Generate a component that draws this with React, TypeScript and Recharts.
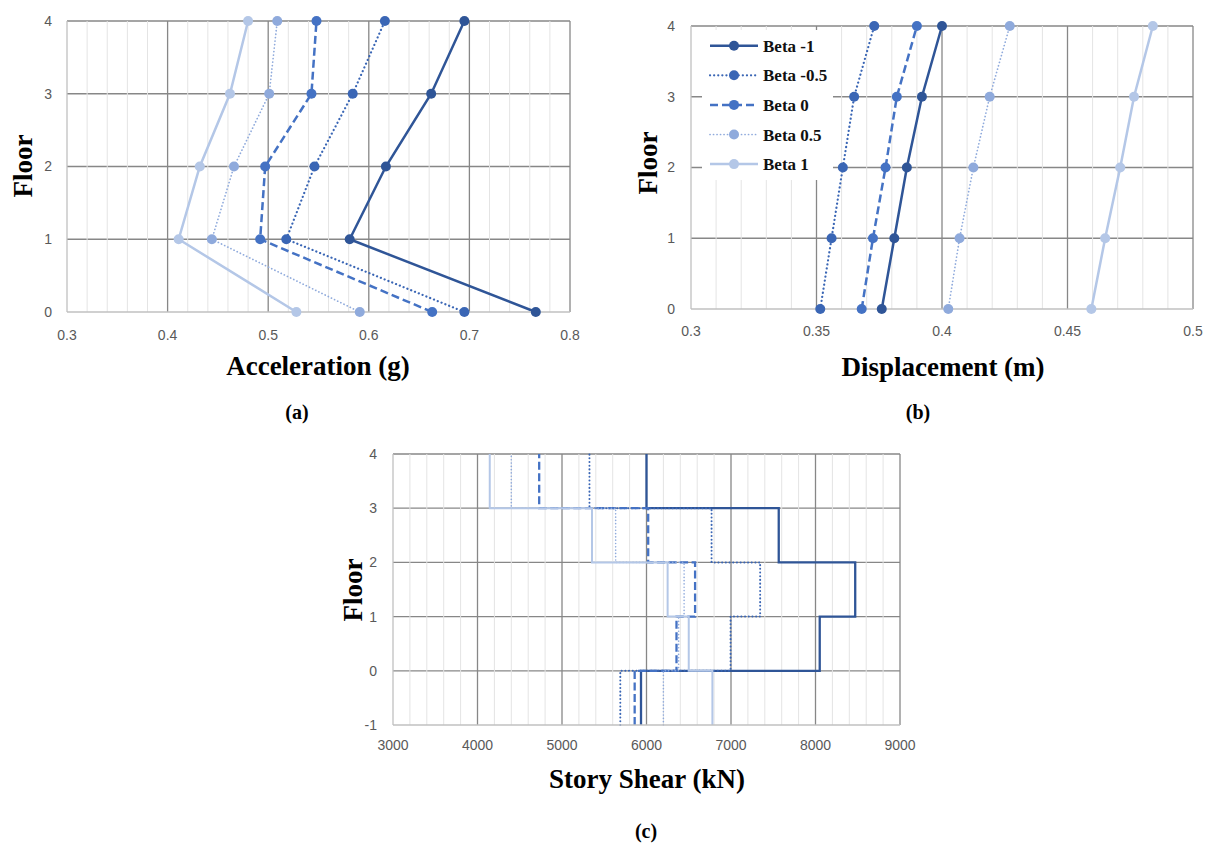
import React from "react";
import { LineChart, Line, XAxis, YAxis, CartesianGrid, Legend } from "recharts";

// floors 0..4 (panels a, b)
const floors = [0, 1, 2, 3, 4];
const seriesNames = ["Beta -1", "Beta -0.5", "Beta 0", "Beta 0.5", "Beta 1"];

// (a) peak floor acceleration (g)
const accBetaM1 = [0.766, 0.581, 0.617, 0.662, 0.695];
const accBetaM05 = [0.695, 0.518, 0.546, 0.584, 0.616];
const accBeta0 = [0.663, 0.492, 0.497, 0.543, 0.548];
const accBeta05 = [0.591, 0.444, 0.466, 0.501, 0.509];
const accBeta1 = [0.528, 0.411, 0.432, 0.462, 0.48];

// (b) peak displacement (m)
const dispBetaM1 = [0.376, 0.381, 0.386, 0.392, 0.4];
const dispBetaM05 = [0.3515, 0.356, 0.3605, 0.365, 0.373];
const dispBeta0 = [0.368, 0.3725, 0.3775, 0.382, 0.39];
const dispBeta05 = [0.4025, 0.407, 0.4125, 0.419, 0.427];
const dispBeta1 = [0.4595, 0.465, 0.471, 0.4765, 0.484];

// (c) story shear (kN), stories -1..0, 0..1, 1..2, 2..3, 3..4
const shearFloors = [-1, 0, 1, 2, 3, 4];
const shearBetaM1 = [5935, 8050, 8470, 7565, 6000];
const shearBetaM05 = [5690, 6995, 7345, 6770, 5325];
const shearBeta0 = [5860, 6355, 6575, 6020, 4730];
const shearBeta05 = [6200, 6380, 6445, 5635, 4400];
const shearBeta1 = [6780, 6500, 6250, 5355, 4145];

const keys = ["bm1", "bm05", "b0", "b05", "b1"];

const accRows = floors.map((f, i) => ({
  floor: f,
  bm1: accBetaM1[i],
  bm05: accBetaM05[i],
  b0: accBeta0[i],
  b05: accBeta05[i],
  b1: accBeta1[i],
}));

const dispRows = floors.map((f, i) => ({
  floor: f,
  bm1: dispBetaM1[i],
  bm05: dispBetaM05[i],
  b0: dispBeta0[i],
  b05: dispBeta05[i],
  b1: dispBeta1[i],
}));

// top floor repeats the last story so the step reaches floor 4
const shearRows = shearFloors.map((f, i) => {
  const j = Math.min(i, 4);
  return {
    floor: f,
    bm1: shearBetaM1[j],
    bm05: shearBetaM05[j],
    b0: shearBeta0[j],
    b05: shearBeta05[j],
    b1: shearBeta1[j],
  };
});

type LineStyle = { color: string; width: number; dash?: string; cap?: "round" | "butt" };

const pointStyles: LineStyle[] = [
  { color: "#2F5597", width: 2.5 },
  { color: "#3A66B5", width: 2.2, dash: "0.1 4", cap: "round" },
  { color: "#4472C4", width: 2.5, dash: "8 4" },
  { color: "#8FAADC", width: 1.7, dash: "0.1 3.4", cap: "round" },
  { color: "#B4C7E7", width: 2.5 },
];

const stepStyles: LineStyle[] = [
  { color: "#2F5597", width: 2.3 },
  { color: "#3A66B5", width: 2, dash: "0.1 3.6", cap: "round" },
  { color: "#4472C4", width: 2.3, dash: "8 3.5" },
  { color: "#8FAADC", width: 1.6, dash: "0.1 3.2", cap: "round" },
  { color: "#B4C7E7", width: 2 },
];

const range = (a: number, b: number, step: number) => {
  const out: number[] = [];
  const n = Math.round((b - a) / step);
  for (let i = 0; i <= n; i++) out.push(Math.round((a + i * step) * 10000) / 10000);
  return out;
};

const tickStyle = { fontFamily: "Liberation Sans, Arial, sans-serif", fontSize: 14, fill: "#595959" };
const MAJOR = "#878787";
const MINOR = "#e4e4e4";
const AXIS = "#c0c0c0";

function LegendBox() {
  return (
    <svg width={131} height={150} style={{ background: "#fff", display: "block" }}>
      {seriesNames.map((name, i) => {
        const s = pointStyles[i];
        const y = 15.7 + i * 29.6;
        return (
          <g key={name}>
            <line
              x1={8}
              x2={56}
              y1={y}
              y2={y}
              stroke={s.color}
              strokeWidth={s.width}
              strokeDasharray={s.dash}
              strokeLinecap={s.cap ?? "butt"}
            />
            <circle cx={32} cy={y} r={5} fill={s.color} />
            <text
              x={61}
              y={y + 6}
              fontFamily="Liberation Serif, Times New Roman, serif"
              fontWeight="bold"
              fontSize={17}
              fill="#111"
            >
              {name}
            </text>
          </g>
        );
      })}
    </svg>
  );
}

interface PanelProps {
  data: Record<string, number>[];
  styles: LineStyle[];
  width: number;
  height: number;
  margin: { top: number; right: number; bottom: number; left: number };
  yAxisWidth: number;
  xAxisHeight: number;
  xDomain: [number, number];
  xTicks: number[];
  xMinor: number[];
  yDomain: [number, number];
  yTicks: number[];
  xTickMargin: number;
  yTickMargin: number;
  step?: boolean;
  legend?: { left: number; top: number };
}

function Panel(p: PanelProps) {
  const majorV = p.xTicks.slice(1);
  const minorV = p.xMinor.filter((v) => !p.xTicks.some((t) => Math.abs(t - v) < 1e-9));
  const majorH = p.yTicks.slice(1);
  return (
    <LineChart layout="vertical" width={p.width} height={p.height} data={p.data} margin={p.margin}>
      <CartesianGrid stroke={MAJOR} strokeWidth={1.3} horizontalValues={majorH} verticalValues={majorV} />
      <CartesianGrid stroke={MINOR} strokeWidth={1} horizontal={false} verticalValues={minorV} />
      <XAxis
        type="number"
        domain={p.xDomain}
        ticks={p.xTicks}
        interval={0}
        allowDataOverflow
        tickLine={false}
        axisLine={{ stroke: AXIS, strokeWidth: 1.3 }}
        tick={tickStyle}
        tickMargin={p.xTickMargin}
        height={p.xAxisHeight}
      />
      <YAxis
        type="number"
        dataKey="floor"
        domain={p.yDomain}
        ticks={p.yTicks}
        interval={0}
        reversed
        tickLine={false}
        axisLine={{ stroke: AXIS, strokeWidth: 1.3 }}
        tick={tickStyle}
        tickMargin={p.yTickMargin}
        width={p.yAxisWidth}
      />
      {keys.map((k, i) => {
        const s = p.styles[i];
        return (
          <Line
            key={k}
            dataKey={k}
            name={seriesNames[i]}
            type={p.step ? "stepBefore" : "linear"}
            stroke={s.color}
            strokeWidth={s.width}
            strokeDasharray={s.dash}
            strokeLinecap={s.cap ?? "butt"}
            dot={p.step ? false : { r: 5, fill: s.color, stroke: "none" }}
            activeDot={false}
            isAnimationActive={false}
          />
        );
      })}
      {p.legend && (
        <Legend
          layout="vertical"
          verticalAlign="middle"
          align="center"
          content={() => <LegendBox />}
          wrapperStyle={{ left: p.legend.left, top: p.legend.top, width: 131, height: 150 }}
        />
      )}
    </LineChart>
  );
}

const serif = "Liberation Serif, Times New Roman, serif";

function Caption({ x, y, size, rotate, text }: { x: number; y: number; size: number; rotate?: boolean; text: string }) {
  return (
    <div
      style={{
        position: "absolute",
        left: x,
        top: y,
        transform: `translate(-50%, -50%)${rotate ? " rotate(-90deg)" : ""}`,
        fontFamily: serif,
        fontWeight: "bold",
        fontSize: size,
        lineHeight: 1,
        whiteSpace: "nowrap",
        color: "#000",
      }}
    >
      {text}
    </div>
  );
}

export default function App() {
  return (
    <div style={{ position: "absolute", left: 0, top: 0, width: 1211, height: 846, background: "#fff" }}>
      <div style={{ position: "absolute", left: 0, top: 0 }}>
        <Panel
          data={accRows}
          styles={pointStyles}
          width={600}
          height={345}
          margin={{ top: 21, right: 30, bottom: 3, left: 16 }}
          yAxisWidth={51}
          xAxisHeight={30}
          xDomain={[0.3, 0.8]}
          xTicks={range(0.3, 0.8, 0.1)}
          xMinor={range(0.3, 0.8, 0.02)}
          yDomain={[0, 4]}
          yTicks={floors}
          xTickMargin={12}
          yTickMargin={9}
        />
      </div>
      <div style={{ position: "absolute", left: 640, top: 0 }}>
        <Panel
          data={dispRows}
          styles={pointStyles}
          width={571}
          height={345}
          margin={{ top: 26, right: 18, bottom: 5, left: 0 }}
          yAxisWidth={51}
          xAxisHeight={31}
          xDomain={[0.3, 0.5]}
          xTicks={range(0.3, 0.5, 0.05)}
          xMinor={range(0.3, 0.5, 0.01)}
          yDomain={[0, 4]}
          yTicks={floors}
          xTickMargin={11}
          yTickMargin={10}
          legend={{ left: 62, top: 30 }}
        />
      </div>
      <div style={{ position: "absolute", left: 330, top: 440 }}>
        <Panel
          data={shearRows}
          styles={stepStyles}
          width={600}
          height={320}
          margin={{ top: 14, right: 30, bottom: 5, left: 13 }}
          yAxisWidth={50}
          xAxisHeight={30}
          xDomain={[3000, 9000]}
          xTicks={range(3000, 9000, 1000)}
          xMinor={range(3000, 9000, 200)}
          yDomain={[-1, 4]}
          yTicks={shearFloors}
          xTickMargin={9}
          yTickMargin={10}
          step
        />
      </div>

      <Caption x={23} y={166} size={27} rotate text="Floor" />
      <Caption x={318} y={366} size={27} text="Acceleration (g)" />
      <Caption x={297} y={412} size={20} text="(a)" />

      <Caption x={648} y={163} size={27} rotate text="Floor" />
      <Caption x={943} y={367} size={27} text="Displacement (m)" />
      <Caption x={918} y={412} size={20} text="(b)" />

      <Caption x={353} y={590} size={27} rotate text="Floor" />
      <Caption x={647} y={779} size={27} text="Story Shear (kN)" />
      <Caption x={646} y={831} size={20} text="(c)" />
    </div>
  );
}
